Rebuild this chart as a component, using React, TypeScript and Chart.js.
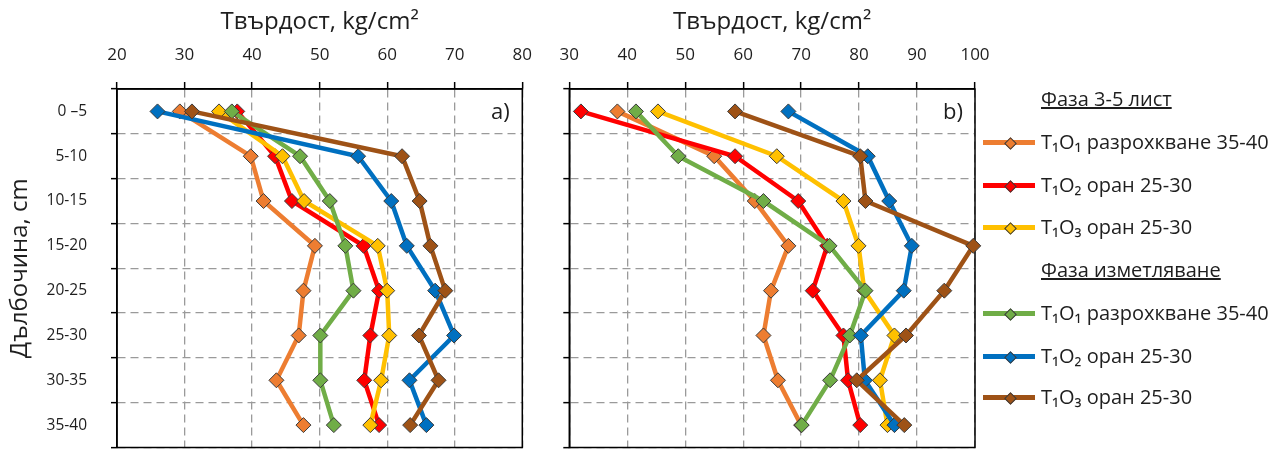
import React, { useEffect, useRef } from 'react';
import { Chart, registerables } from 'chart.js';

Chart.register(...registerables);

const FONT = "'Open Sans', 'Noto Sans', sans-serif";
const TEXT = '#1e1e1e';

// Categories (depth layers, cm)
const depthLabels = ['0 –5', '5-10', '10-15', '15-20', '20-25', '25-30', '30-35', '35-40'];

// Texts
const xTitle = 'Твърдост, kg/cm²';
const yTitle = 'Дълбочина, cm';
const phase1Title = 'Фаза 3-5 лист';
const phase2Title = 'Фаза изметляване';
const seriesNames = ['T₁O₁ разрохкване 35-40', 'T₁O₂ оран 25-30', 'T₁O₃ оран 25-30'];
const panelALabel = 'a)';
const panelBLabel = 'b)';

// Axis ranges
const aMin = 20;
const aMax = 80;
const bMin = 30;
const bMax = 100;
const xStep = 10;

// Panel a) – phase 3-5 leaves
const aPh1_T1O1 = [29.3, 39.8, 41.7, 49.3, 47.6, 46.9, 43.6, 47.6];
const aPh1_T1O2 = [37.8, 43.4, 45.9, 56.5, 58.8, 57.5, 56.6, 58.8];
const aPh1_T1O3 = [35.1, 44.5, 47.7, 58.6, 60.0, 60.3, 59.1, 57.5];
// Panel a) – phase tasseling
const aPh2_T1O1 = [37.0, 47.1, 51.5, 53.8, 55.0, 50.1, 50.1, 52.1];
const aPh2_T1O2 = [26.0, 55.7, 60.6, 62.9, 67.1, 69.9, 63.3, 65.8];
const aPh2_T1O3 = [31.1, 62.2, 64.8, 66.4, 68.6, 64.7, 67.6, 63.4];

// Panel b) – phase 3-5 leaves
const bPh1_T1O1 = [38.3, 55.0, 62.0, 67.8, 64.8, 63.5, 66.0, 70.0];
const bPh1_T1O2 = [32.0, 58.6, 69.5, 74.5, 72.0, 77.3, 78.1, 80.2];
const bPh1_T1O3 = [45.3, 65.8, 77.3, 79.9, 80.9, 86.1, 83.6, 84.9];
// Panel b) – phase tasseling
const bPh2_T1O1 = [41.5, 48.8, 63.5, 74.9, 81.1, 78.4, 75.0, 70.1];
const bPh2_T1O2 = [67.8, 81.5, 85.2, 89.1, 87.7, 80.3, 81.0, 86.1];
const bPh2_T1O3 = [58.6, 80.2, 81.1, 99.7, 94.7, 88.1, 79.6, 87.8];

const colorsPh1 = ['#ED7D31', '#FF0000', '#FFC000'];
const colorsPh2 = ['#70AD47', '#0070C0', '#9E5216'];

const framePlugin = {
  id: 'frame',
  beforeDatasetsDraw(chart: any) {
    const { ctx, chartArea } = chart;
    const { left, top, right, bottom } = chartArea;
    ctx.save();
    ctx.strokeStyle = '#000';
    ctx.lineWidth = 1.5;
    ctx.strokeRect(left, top, right - left, bottom - top);
    ctx.restore();
  },
};

function makeDatasets(series: number[][], colors: string[], names: string[]) {
  const n = series.length;
  return series.map((vals, i) => ({
    label: names[i],
    data: vals.map((v, j) => ({ x: v, y: depthLabels[j] })),
    borderColor: colors[i],
    backgroundColor: colors[i],
    borderWidth: 4.5,
    pointStyle: 'rectRot',
    pointRadius: 7.5,
    pointBackgroundColor: colors[i],
    pointBorderColor: '#3a3a3a',
    pointBorderWidth: 1,
    tension: 0,
    clip: false,
    order: n - 1 - i,
  }));
}

function zeroPadding(s: any) {
  s.paddingLeft = 0;
  s.paddingRight = 0;
  s.paddingTop = 0;
  s.paddingBottom = 0;
}

function makeConfig(opts: {
  series: number[][];
  min: number;
  max: number;
  yWidth: number;
  padRight: number;
  showCategories: boolean;
}) {
  const colors = [...colorsPh1, ...colorsPh2];
  const names = [...seriesNames, ...seriesNames];
  const gridCommon = {
    color: '#9a9a9a',
    lineWidth: 1.3,
    tickColor: '#000',
    tickWidth: 1.5,
    tickBorderDash: [],
  };
  return {
    type: 'line',
    data: { labels: depthLabels, datasets: makeDatasets(opts.series, colors, names) },
    options: {
      animation: false,
      responsive: false,
      maintainAspectRatio: false,
      indexAxis: 'y',
      layout: { padding: { left: 0, top: 0, right: opts.padRight, bottom: 1 } },
      plugins: { legend: { display: false }, tooltip: { enabled: false } },
      scales: {
        x: {
          type: 'linear',
          position: 'top',
          min: opts.min,
          max: opts.max,
          ticks: {
            stepSize: xStep,
            color: TEXT,
            font: { family: FONT, size: 17 },
            padding: 16.5,
            maxRotation: 0,
            autoSkip: false,
          },
          title: {
            display: true,
            text: xTitle,
            color: TEXT,
            font: { family: FONT, size: 24 },
            padding: { top: 7.5, bottom: 0 },
          },
          grid: { ...gridCommon, tickLength: 7 },
          border: { display: true, color: '#000', width: 1.5, dash: [8, 5] },
          afterFit: (s: any) => {
            s.height = 89;
            zeroPadding(s);
          },
        },
        y: {
          type: 'category',
          position: 'left',
          offset: true,
          ticks: {
            display: opts.showCategories,
            color: TEXT,
            font: { family: FONT, size: 15.5 },
            padding: 24,
            autoSkip: false,
          },
          title: {
            display: opts.showCategories,
            text: yTitle,
            color: TEXT,
            font: { family: FONT, size: 24 },
            padding: { top: 6, bottom: 0 },
          },
          grid: { ...gridCommon, offset: true, tickLength: 6 },
          border: { display: true, color: '#000', width: 1.5, dash: [8, 5] },
          afterFit: (s: any) => {
            s.width = opts.yWidth;
            zeroPadding(s);
          },
        },
      },
    },
    plugins: [framePlugin],
  } as any;
}

function ChartCanvas(props: { config: any; left: number; width: number }) {
  const ref = useRef<HTMLCanvasElement | null>(null);
  useEffect(() => {
    if (!ref.current) return;
    const chart = new Chart(ref.current, props.config);
    return () => chart.destroy();
  }, []);
  return (
    <canvas
      ref={ref}
      width={props.width}
      height={456}
      style={{ position: 'absolute', left: props.left, top: 0, width: props.width, height: 456 }}
    />
  );
}

function LegendItem(props: { color: string; name: string; y: number }) {
  return (
    <div style={{ position: 'absolute', left: 983, top: props.y - 13, height: 26, width: 300 }}>
      <div style={{ position: 'absolute', left: 0, top: 11, width: 52, height: 4.5, background: props.color }} />
      <div
        style={{
          position: 'absolute',
          left: 22.5,
          top: 9.5,
          width: 7,
          height: 7,
          background: props.color,
          border: '1px solid #3a3a3a',
          transform: 'rotate(45deg)',
        }}
      />
      <div
        style={{
          position: 'absolute',
          left: 58,
          top: 0,
          lineHeight: '26px',
          fontSize: 20,
          fontFamily: FONT,
          color: TEXT,
          whiteSpace: 'nowrap',
        }}
      >
        {props.name}
      </div>
    </div>
  );
}

function Heading(props: { text: string; y: number }) {
  return (
    <div
      style={{
        position: 'absolute',
        left: 1041,
        top: props.y - 13,
        lineHeight: '26px',
        fontSize: 20,
        fontFamily: FONT,
        color: TEXT,
        textDecoration: 'underline',
        whiteSpace: 'nowrap',
      }}
    >
      {props.text}
    </div>
  );
}

export default function App() {
  const configA = makeConfig({
    series: [aPh1_T1O1, aPh1_T1O2, aPh1_T1O3, aPh2_T1O1, aPh2_T1O2, aPh2_T1O3],
    min: aMin,
    max: aMax,
    yWidth: 117,
    padRight: 540 - 522.3,
    showCategories: true,
  });
  const configB = makeConfig({
    series: [bPh1_T1O1, bPh1_T1O2, bPh1_T1O3, bPh2_T1O1, bPh2_T1O2, bPh2_T1O3],
    min: bMin,
    max: bMax,
    yWidth: 569.3 - 540,
    padRight: 1000 - 975,
    showCategories: false,
  });
  const legendYs1 = [142, 185, 227];
  const legendYs2 = [313, 356, 397];
  const panelLabelStyle: React.CSSProperties = {
    position: 'absolute',
    top: 96,
    fontSize: 22,
    fontFamily: FONT,
    color: TEXT,
    lineHeight: '28px',
  };
  return (
    <div style={{ position: 'absolute', left: 0, top: 0, width: 1286, height: 456, background: '#fff', overflow: 'hidden' }}>
      <ChartCanvas config={configA} left={0} width={540} />
      <ChartCanvas config={configB} left={540} width={460} />
      <div style={{ ...panelLabelStyle, left: 491 }}>{panelALabel}</div>
      <div style={{ ...panelLabelStyle, left: 943 }}>{panelBLabel}</div>
      <Heading text={phase1Title} y={99} />
      {seriesNames.map((n, i) => (
        <LegendItem key={'p1' + i} color={colorsPh1[i]} name={n} y={legendYs1[i]} />
      ))}
      <Heading text={phase2Title} y={270} />
      {seriesNames.map((n, i) => (
        <LegendItem key={'p2' + i} color={colorsPh2[i]} name={n} y={legendYs2[i]} />
      ))}
    </div>
  );
}
